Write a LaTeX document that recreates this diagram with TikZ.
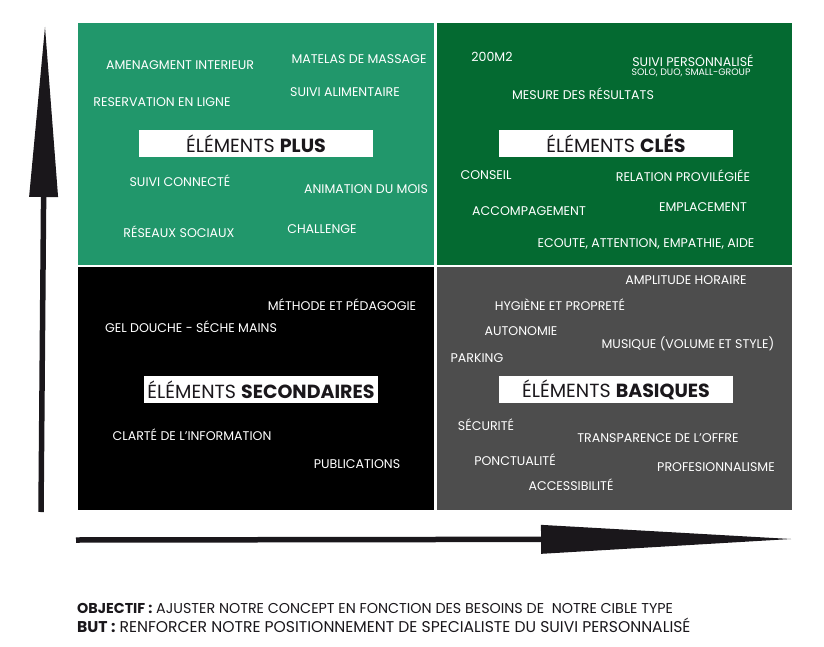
\documentclass[tikz,border=0pt]{standalone}
\usepackage{fontspec}
\setmainfont{Poppins}
\usepackage{xcolor}
\usetikzlibrary{arrows.meta}
\definecolor{plus}{HTML}{21976B}
\definecolor{cles}{HTML}{046A31}
\definecolor{basique}{HTML}{4D4D4D}
\definecolor{ink}{HTML}{1A171B}
\tikzset{
  item/.style={text=white, font=\fontsize{12.6}{12.6}\selectfont, inner sep=0pt},
  small/.style={text=white, font=\fontsize{9.4}{9.4}\selectfont, inner sep=0pt},
  head/.style={fill=white, text=ink, font=\fontsize{19}{19}\selectfont, minimum width=234pt, minimum height=27pt, inner sep=0pt},
  axis/.style={draw=ink, line width=5.5pt, -{Triangle[length=#1, width=29pt, line width=0pt, fill=ink]}},
  foot/.style={text=ink, inner sep=0pt, anchor=west},
}
\begin{document}
\begin{tikzpicture}[x=1pt,y=-1pt]
  \useasboundingbox (0,0) rectangle (824,647);
  % quadrants
  \fill[plus] (78,23) rectangle (434,265);
  \fill[cles] (437,23) rectangle (792,265);
  \fill[black] (78,267) rectangle (434,510);
  \fill[basique] (437,267) rectangle (792,510);

  % axes
  \coordinate (yfrom) at (41,512);
  \coordinate (yto) at (45,27);
  \coordinate (xfrom) at (76,540);
  \coordinate (xto) at (791,539);
  \draw[axis=170pt] (yfrom) -- (yto);
  \draw[axis=250pt] (xfrom) -- (xto);

  % headings
  \node[head] (plushead) at (256,143.5) {ÉLÉMENTS \textbf{PLUS}};
  \node[head] (cleshead) at (616,143.5) {ÉLÉMENTS \textbf{CLÉS}};
  \node[head] (sechead) at (261,389.5) {ÉLÉMENTS \textbf{SECONDAIRES}};
  \node[head] (bashead) at (616,389.5) {ÉLÉMENTS \textbf{BASIQUES}};

  % plus
  \node[item] (amenag) at (180,65) {AMENAGMENT INTERIEUR};
  \node[item] (matelas) at (359,59) {MATELAS DE MASSAGE};
  \node[item] (resa) at (162,102) {RESERVATION EN LIGNE};
  \node[item] (alim) at (345,92) {SUIVI ALIMENTAIRE};
  \node[item] (connecte) at (180,181) {SUIVI CONNECTÉ};
  \node[item] (animation) at (366,189) {ANIMATION DU MOIS};
  \node[item] (reseaux) at (179,232) {RÉSEAUX SOCIAUX};
  \node[item] (challenge) at (322,229) {CHALLENGE};

  % cles
  \node[item] (surface) at (492,57) {200M2};
  \node[item] (suivi) at (693,61) {SUIVI PERSONNALISÉ};
  \node[small] (solo) at (691,73) {SOLO, DUO, SMALL-GROUP};
  \node[item] (mesure) at (583,94) {MESURE DES RÉSULTATS};
  \node[item] (conseil) at (486,175) {CONSEIL};
  \node[item] (relation) at (683,176) {RELATION PROVILÉGIÉE};
  \node[item] (accomp) at (529,211) {ACCOMPAGEMENT};
  \node[item] (emplac) at (703,207) {EMPLACEMENT};
  \node[item] (ecoute) at (646,244) {ECOUTE, ATTENTION, EMPATHIE, AIDE};

  % secondaires
  \node[item] (methode) at (342,305) {MÉTHODE ET PÉDAGOGIE};
  \node[item] (gel) at (191,327) {GEL DOUCHE - SÉCHE MAINS};
  \node[item] (clarte) at (192,435) {CLARTÉ DE L’INFORMATION};
  \node[item] (public) at (357,464) {PUBLICATIONS};

  % basiques
  \node[item] (amplitude) at (686,280) {AMPLITUDE HORAIRE};
  \node[item] (hygiene) at (560,305) {HYGIÈNE ET PROPRETÉ};
  \node[item] (autonomie) at (521,331) {AUTONOMIE};
  \node[item] (musique) at (688,344) {MUSIQUE (VOLUME ET STYLE)};
  \node[item] (parking) at (477,358) {PARKING};
  \node[item] (securite) at (486,425) {SÉCURITÉ};
  \node[item] (transp) at (658,438) {TRANSPARENCE DE L’OFFRE};
  \node[item] (ponct) at (515,460) {PONCTUALITÉ};
  \node[item] (prof) at (716,467) {PROFESIONNALISME};
  \node[item] (access) at (571,485) {ACCESSIBILITÉ};

  % bas de page
  \node[foot, font=\fontsize{14.3}{14.3}\selectfont] (objectif) at (77,608) {\textbf{OBJECTIF :} AJUSTER NOTRE CONCEPT EN FONCTION DES BESOINS DE\ \ NOTRE CIBLE TYPE};
  \node[foot, font=\fontsize{15.6}{15.6}\selectfont] (but) at (77,625) {\textbf{BUT :} RENFORCER NOTRE POSITIONNEMENT DE SPECIALISTE DU SUIVI PERSONNALISÉ};
\end{tikzpicture}
\end{document}
